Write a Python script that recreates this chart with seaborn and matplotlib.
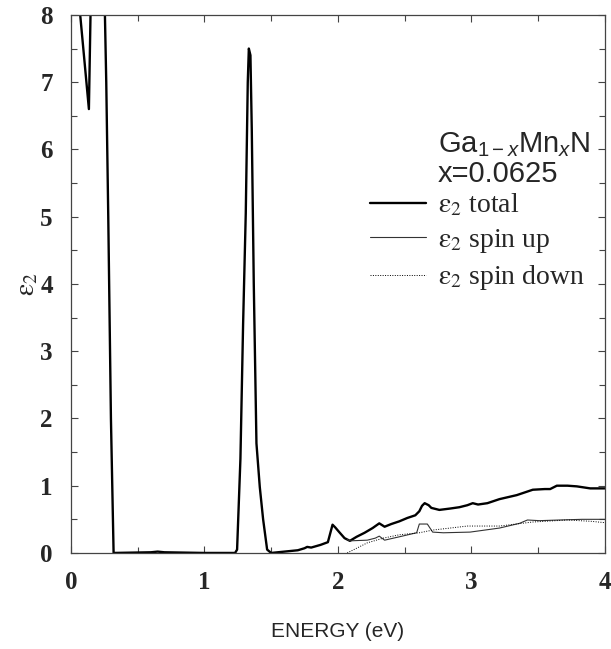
import numpy as np
import pandas as pd
import matplotlib
matplotlib.use('Agg')
import matplotlib.pyplot as plt
from matplotlib.lines import Line2D
from matplotlib.font_manager import FontProperties
from matplotlib.ticker import MultipleLocator
import seaborn as sns

# eps2 total
e_total = [0.0, 0.135, 0.16, 0.25, 0.265, 0.28, 0.30, 0.32, 0.6, 0.65, 0.7, 1.0,
           1.23, 1.245, 1.27, 1.29, 1.31, 1.325, 1.333, 1.345, 1.355, 1.37, 1.39,
           1.415, 1.44, 1.47, 1.50, 1.55, 1.6, 1.7, 1.75, 1.77, 1.8, 1.87, 1.925,
           1.96, 1.98, 2.01, 2.05, 2.09, 2.14, 2.2, 2.26, 2.31, 2.35, 2.4, 2.46,
           2.52, 2.58, 2.61, 2.63, 2.65, 2.68, 2.70, 2.76, 2.84, 2.91, 2.97, 3.01,
           3.05, 3.12, 3.21, 3.34, 3.46, 3.55, 3.59, 3.64, 3.72, 3.79, 3.89, 4.0]
eps_total = [9.5, 6.6, 9.5, 8.5, 7.0, 5.0, 2.0, 0.0, 0.01, 0.02, 0.01, 0.0,
             0.0, 0.05, 1.4, 3.4, 5.05, 7.0, 7.5, 7.4, 6.3, 4.0, 1.63,
             0.98, 0.5, 0.05, 0.0, 0.01, 0.02, 0.04, 0.07, 0.09, 0.08, 0.12, 0.16,
             0.42, 0.38, 0.31, 0.22, 0.18, 0.24, 0.30, 0.37, 0.44, 0.39, 0.43, 0.47,
             0.52, 0.56, 0.62, 0.70, 0.74, 0.71, 0.67, 0.64, 0.66, 0.68, 0.71, 0.74,
             0.72, 0.74, 0.80, 0.86, 0.94, 0.95, 0.95, 1.00, 1.00, 0.99, 0.96, 0.96]

# eps2 spin up
e_up = [2.07, 2.09, 2.22, 2.28, 2.31, 2.35, 2.46, 2.59, 2.61, 2.67, 2.71, 2.79,
        2.99, 3.21, 3.36, 3.42, 3.51, 3.66, 3.83, 4.0]
eps_up = [0.20, 0.18, 0.19, 0.22, 0.25, 0.19, 0.24, 0.30, 0.43, 0.43, 0.31, 0.30,
          0.31, 0.37, 0.44, 0.49, 0.48, 0.49, 0.50, 0.50]

# eps2 spin down
e_down = [2.07, 2.15, 2.22, 2.34, 2.46, 2.61, 2.71, 2.97, 3.21, 3.46, 3.72, 3.9, 4.0]
eps_down = [0.0, 0.08, 0.15, 0.22, 0.27, 0.30, 0.34, 0.40, 0.40, 0.46, 0.49, 0.47, 0.45]

labels = [r'$\mathrm{\varepsilon}_2$ total', r'$\mathrm{\varepsilon}_2$ spin up',
          r'$\mathrm{\varepsilon}_2$ spin down']

sns.set_style('ticks')
plt.rcParams['font.family'] = ['Liberation Serif', 'DejaVu Serif']
plt.rcParams['mathtext.fontset'] = 'custom'
plt.rcParams['mathtext.rm'] = 'Liberation Sans'
plt.rcParams['mathtext.it'] = 'Liberation Sans:italic'

fig = plt.figure(figsize=(6.11, 6.49), dpi=100)
ax = fig.add_axes([0.116, 0.148, 0.874, 0.829])

sns.lineplot(x=e_total, y=eps_total, ax=ax, color='black', linewidth=1.7,
             sort=False, estimator=None)
sns.lineplot(x=e_up, y=eps_up, ax=ax, color='#333333', linewidth=0.8,
             sort=False, estimator=None)
sns.lineplot(x=e_down, y=eps_down, ax=ax, color='black', linewidth=0.7,
             linestyle=(0, (1, 1.5)), sort=False, estimator=None)

ax.set_xlim(0, 4)
ax.set_ylim(0, 8)
ax.xaxis.set_major_locator(MultipleLocator(1))
ax.xaxis.set_minor_locator(MultipleLocator(0.5))
ax.yaxis.set_major_locator(MultipleLocator(1))
ax.yaxis.set_minor_locator(MultipleLocator(0.5))
ax.tick_params(which='both', direction='in', top=True, right=True,
               color='#444444', width=0.8)
ax.tick_params(which='major', length=5, labelsize=18, pad=13)
ax.tick_params(which='minor', length=4)
for lab in ax.get_xticklabels() + ax.get_yticklabels():
    lab.set_fontweight('bold')
for sp in ax.spines.values():
    sp.set_color('#444444')
    sp.set_linewidth(0.9)

ax.set_xlabel('ENERGY (eV)', family='Liberation Sans', fontsize=15, labelpad=20)
ax.set_ylabel(r'$\mathrm{\varepsilon}_2$', fontsize=20, labelpad=0,
              math_fontfamily='stix')

fig.text(438 / 611, 1 - 145 / 649, r'Ga$_{\mathrm{1-}x}$Mn$_x$N',
         family='Liberation Sans', fontsize=21, va='center')
fig.text(438 / 611, 1 - 174 / 649, 'x=0.0625',
         family='Liberation Sans', fontsize=21, va='center')

handles = [Line2D([], [], color='black', linewidth=1.7),
           Line2D([], [], color='#333333', linewidth=0.8),
           Line2D([], [], color='black', linewidth=0.7, linestyle=(0, (1, 1.5)))]
ax.legend(handles, labels, loc='upper left', bbox_to_anchor=(370 / 611, 1 - 192 / 649),
          bbox_transform=fig.transFigure, frameon=False, handlelength=2.0,
          handletextpad=0.45, labelspacing=0.3, borderaxespad=0, borderpad=0,
          prop=FontProperties(family='Liberation Serif', size=20,
                              math_fontfamily='stix'))

fig.savefig('out.png', dpi=100)
